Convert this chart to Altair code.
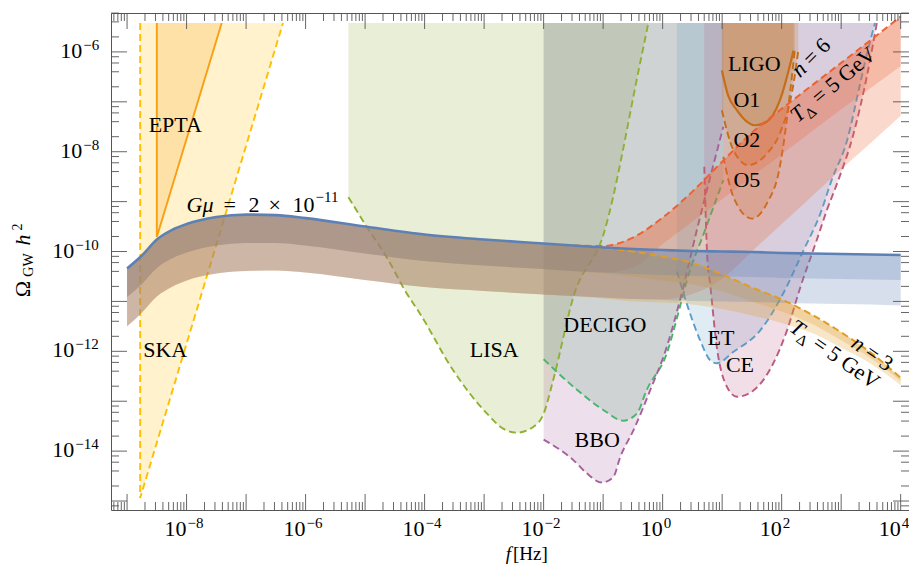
import math
import altair as alt
import pandas as pd

FONT = "Liberation Serif"
FRAME = "#555555"

# ---------------- axes ranges (log10) ----------------
X_DOM = [-9.27, 4.14]
Y_DOM = [-15.18, -5.22]
REG_TOP = -5.42          # upper edge of the sensitivity regions
W, H = 798, 497

# ---------------- colours ----------------
C_BLUE, C_ORANGE, C_GREEN, C_RED = "#5E81B5", "#E19C24", "#8FB032", "#EB6235"
C_LIGO, C_ET, C_SKA, C_BBO = "#C56E1A", "#5D9EC7", "#FFBF00", "#A5609D"
C_EPTA, C_CE, C_DECIGO = "#F89F13", "#BC5B80", "#47B66D"

# ---------------- G mu = 2e-11 spectra (log10 f, log10 Omega h^2) ----------------
GMU_F = [-9, -8.75, -8.5, -8.25, -8, -7.5, -7, -6.5, -6, -5, -4, -3, -2,
         -1.5, -1, -0.5, 0, 0.5, 1, 1.5, 2, 2.5, 3, 3.5, 4]
STD_TOP = [-10.34, -10.08, -9.76, -9.57, -9.45, -9.31, -9.26, -9.27, -9.33, -9.50, -9.66, -9.76, -9.84,
           -9.88, -9.92, -9.95, -9.97, -9.99, -10.0, -10.01, -10.03, -10.04, -10.05, -10.06, -10.07]
STD_MID = [-10.91, -10.65, -10.33, -10.14, -10.02, -9.88, -9.83, -9.83, -9.88, -10.04, -10.19, -10.28, -10.35,
           -10.39, -10.42, -10.45, -10.47, -10.49, -10.50, -10.51, -10.53, -10.54, -10.55, -10.56, -10.57]
STD_BOT = [-11.50, -11.22, -10.90, -10.71, -10.58, -10.44, -10.39, -10.38, -10.42, -10.57, -10.71, -10.79, -10.86,
           -10.89, -10.92, -10.95, -10.97, -10.99, -11.0, -11.01, -11.03, -11.04, -11.05, -11.06, -11.08]

# non-standard cosmologies diverge above ~0.03 Hz
DIV_F = [-1.5, -1, -0.5, 0, 0.5, 1, 1.5, 2, 2.5, 3, 3.5, 4]
N3_TOP = [-9.88, -9.93, -10.0, -10.1, -10.23, -10.46, -10.72, -10.96, -11.26, -11.62, -12.03, -12.53]
N3_MID = [-10.39, -10.43, -10.5, -10.58, -10.66, -10.8, -11.0, -11.2, -11.45, -11.78, -12.14, -12.6]
N3_BOT = [-10.89, -10.94, -11.0, -11.02, -11.06, -11.15, -11.28, -11.43, -11.63, -11.93, -12.25, -12.68]
N6_TOP = [-9.88, -9.89, -9.72, -9.32, -8.8, -8.2, -7.62, -7.14, -6.68, -6.22, -5.76, -5.29]
N6_MID = [-10.39, -10.42, -10.32, -9.85, -9.4, -8.95, -8.5, -8.05, -7.6, -7.15, -6.72, -6.28]
N6_BOT = [-10.89, -10.92, -10.95, -10.95, -10.85, -10.55, -10.0, -9.45, -8.9, -8.35, -7.82, -7.28]

# ---------------- detector sensitivity curves ----------------
SKA_F = [-8.78, -8.78, -6.38]
SKA_O = [REG_TOP, -14.94, REG_TOP]
EPTA_F = [-8.50, -8.50, -7.41]
EPTA_O = [REG_TOP, -9.71, REG_TOP]
LISA_F = [-5.28, -4.97, -4.64, -4.30, -4.08, -3.52, -2.95, -2.68, -2.45, -2.17, -2.0, -1.84, -1.50, -0.99, -0.38, -0.24]
LISA_O = [-8.91, -9.51, -10.11, -10.84, -11.24, -12.38, -13.25, -13.55, -13.63, -13.51, -13.25, -12.58, -10.91, -9.64, -6.23, -5.42]
DECIGO_F = [-2.0, -1.5, -0.99, -0.66, -0.43, -0.27, 0.07, 0.29, 0.41, 0.71, 1.02]
DECIGO_O = [-12.16, -12.71, -13.18, -13.39, -13.24, -12.78, -12.04, -11.11, -10.57, -9.58, -8.57]
BBO_F = [-2.0, -1.5, -1.27, -1.02, -0.83, -0.71, -0.49, -0.21, 0.07, 0.29, 0.575, 1.02]
BBO_O = [-13.77, -14.18, -14.45, -14.63, -14.52, -14.11, -13.58, -12.78, -11.91, -10.98, -9.57, -7.50]
ET_F = [0.24, 0.46, 0.63, 0.80, 0.91, 1.19, 1.64, 2.0, 2.37, 2.65, 2.84, 3.10, 3.32, 3.49, 3.57]
ET_O = [-10.4, -11.24, -11.78, -12.18, -12.24, -12.01, -11.58, -10.9, -9.97, -9.24, -8.57, -7.77, -6.63, -5.77, -5.42]
CE_F = [0.70, 0.75, 0.80, 0.91, 1.08, 1.25, 1.53, 1.86, 2.09, 2.31, 2.59, 2.76, 2.93, 3.21, 3.43, 3.60]
CE_O = [-8.3, -10.11, -10.67, -11.91, -12.71, -12.91, -12.78, -12.24, -11.58, -10.73, -9.77, -9.17, -8.64, -7.63, -6.50, -5.42]
O1_F = [0.995, 1.10, 1.25, 1.42, 1.55, 1.75, 1.97, 2.20]
O1_O = [-6.37, -6.87, -7.17, -7.40, -7.47, -7.40, -6.97, -5.97]
O2_F = [0.995, 1.19, 1.44, 1.75, 1.97, 2.20, 2.28]
O2_O = [-7.17, -7.97, -8.27, -8.04, -7.63, -6.63, -5.97]
O5_F = [1.02, 1.19, 1.50, 1.75, 1.97, 2.14, 2.22]
O5_O = [-8.10, -8.91, -9.34, -9.04, -8.30, -6.83, -5.97]

# ---------------- text labels (text, log f, log Omega) ----------------
LABELS = [("EPTA", -8.19, -7.47), ("SKA", -8.36, -11.98), ("LISA", -2.83, -11.98),
          ("DECIGO", -0.97, -11.48), ("BBO", -1.10, -13.78), ("ET", 0.98, -11.74),
          ("CE", 1.30, -12.28), ("LIGO", 1.54, -6.25), ("O1", 1.415, -6.97),
          ("O2", 1.415, -7.77), ("O5", 1.415, -8.57)]
GMU_LABEL_AT = (-8.0, -9.21)
N6_LABEL_AT = (2.31, -6.53)
T6_LABEL_AT = (2.27, -7.43)
T3_LABEL_AT = (2.11, -11.58)
N3_LABEL_AT = (3.15, -11.90)

X_LABEL_EXP = [-8, -6, -4, -2, 0, 2, 4]
Y_LABEL_EXP = [-14, -12, -10, -8, -6]

# ---------------- helpers ----------------
XS = alt.Scale(type="log", domain=[10 ** X_DOM[0], 10 ** X_DOM[1]], nice=False)
YS = alt.Scale(type="log", domain=[10 ** Y_DOM[0], 10 ** Y_DOM[1]], nice=False)


def xe():
    return alt.X("f:Q", scale=XS, axis=None)


def ye(field="v"):
    return alt.Y(f"{field}:Q", scale=YS, axis=None)


def pts(F, O):
    return pd.DataFrame({"f": [10.0 ** a for a in F], "v": [10.0 ** b for b in O],
                         "t": [10.0 ** REG_TOP] * len(F), "i": list(range(len(F)))})


def region(F, O, color, op=0.2, interp="monotone"):
    return alt.Chart(pts(F, O)).mark_area(color=color, opacity=op, interpolate=interp, clip=True).encode(
        x=xe(), y=ye(), y2="t:Q")


def curve(F, O, color, dash=None, width=1.9, interp="monotone"):
    kw = dict(color=color, strokeWidth=width, interpolate=interp, clip=True)
    if dash:
        kw["strokeDash"] = dash
    return alt.Chart(pts(F, O)).mark_line(**kw).encode(x=xe(), y=ye(), order="i:Q")


def band(F, T, L, color, op=0.25):
    df = pd.DataFrame({"f": [10.0 ** a for a in F], "v": [10.0 ** b for b in T], "v2": [10.0 ** b for b in L]})
    return alt.Chart(df).mark_area(color=color, opacity=op, interpolate="monotone", clip=True).encode(
        x=xe(), y=ye(), y2="v2:Q")


def text_at(s, lf, lo, size=22, angle=0, align="center", baseline="middle", dx=0, dy=0, italic=False):
    df = pd.DataFrame({"f": [10.0 ** lf], "v": [10.0 ** lo]})
    return alt.Chart(df).mark_text(text=s, font=FONT, fontSize=size, angle=angle, align=align, baseline=baseline,
                                   dx=dx, dy=dy, fontStyle="italic" if italic else "normal", color="black").encode(
        x=xe(), y=ye())


def text_px(s, x, y, size=22, angle=0, align="center", baseline="middle", italic=False):
    return alt.Chart(pd.DataFrame({"a": [0]})).mark_text(
        text=s, font=FONT, fontSize=size, angle=angle, align=align, baseline=baseline,
        fontStyle="italic" if italic else "normal", color="black").encode(x=alt.value(x), y=alt.value(y))


layers = []
# detector regions
layers += [region(SKA_F[1:], SKA_O[1:], C_SKA, interp="linear"),
           region(EPTA_F[1:], EPTA_O[1:], C_EPTA, interp="linear"),
           region(LISA_F, LISA_O, C_GREEN), region(DECIGO_F, DECIGO_O, C_DECIGO),
           region(BBO_F, BBO_O, C_BBO), region(ET_F, ET_O, C_ET), region(CE_F, CE_O, C_CE),
           region(O1_F, O1_O, C_LIGO), region(O2_F, O2_O, C_LIGO), region(O5_F, O5_O, C_LIGO)]
DASH = [7, 4]
layers += [curve(SKA_F, SKA_O, C_SKA, DASH, interp="linear"),
           curve(EPTA_F, EPTA_O, C_EPTA, None, interp="linear"),
           curve(LISA_F, LISA_O, C_GREEN, DASH), curve(DECIGO_F, DECIGO_O, C_DECIGO, DASH),
           curve(BBO_F, BBO_O, C_BBO, DASH), curve(ET_F, ET_O, C_ET, DASH), curve(CE_F, CE_O, C_CE, DASH),
           curve(O1_F, O1_O, C_LIGO, None, 2.2), curve(O2_F, O2_O, C_LIGO, DASH), curve(O5_F, O5_O, C_LIGO, DASH)]

# cosmic string bands
common = 13
for F2, T2, M2, B2, col in [(DIV_F, N6_TOP, N6_MID, N6_BOT, C_RED), (DIV_F, N3_TOP, N3_MID, N3_BOT, C_ORANGE)]:
    F = GMU_F[:common] + F2
    T = STD_TOP[:common] + T2
    M = STD_MID[:common] + M2
    B = STD_BOT[:common] + B2
    layers += [band(F, T, B, col), band(F, T, M, col)]
layers += [band(GMU_F, STD_TOP, STD_BOT, C_BLUE), band(GMU_F, STD_TOP, STD_MID, C_BLUE)]
layers += [curve(DIV_F, N6_TOP, C_RED, DASH, 2.0), curve(DIV_F, N3_TOP, C_ORANGE, DASH, 2.0),
           curve(GMU_F, STD_TOP, C_BLUE, None, 2.6)]

# labels
for s, lf, lo in LABELS:
    layers.append(text_at(s, lf, lo))
gx, gy = GMU_LABEL_AT
layers += [text_at("Gμ", gx, gy, align="left", baseline="alphabetic", italic=True),
           text_at("=", gx, gy, align="left", baseline="alphabetic", dx=37),
           text_at("2", gx, gy, align="left", baseline="alphabetic", dx=62),
           text_at("×", gx, gy, align="left", baseline="alphabetic", dx=82),
           text_at("10", gx, gy, align="left", baseline="alphabetic", dx=106),
           text_at("−11", gx, gy, size=15, align="left", baseline="alphabetic", dx=129, dy=-10)]
lf, lo = N6_LABEL_AT
layers += [text_at("n", lf, lo, angle=315, align="left", baseline="alphabetic", italic=True),
           text_at("= 6", lf, lo, angle=315, align="left", baseline="alphabetic", dx=16)]
lf, lo = N3_LABEL_AT
layers += [text_at("n", lf, lo, angle=35, align="left", baseline="alphabetic", italic=True),
           text_at("= 3", lf, lo, angle=35, align="left", baseline="alphabetic", dx=16)]
for (lf, lo), ang in [(T6_LABEL_AT, 320), (T3_LABEL_AT, 35)]:
    layers += [text_at("T", lf, lo, angle=ang, align="left", baseline="alphabetic", italic=True),
               text_at("Δ", lf, lo, size=15, angle=ang, align="left", baseline="alphabetic", dx=12, dy=5),
               text_at("= 5 GeV", lf, lo, angle=ang, align="left", baseline="alphabetic", dx=28)]

# ticks (inward, all four sides)
X_MAJOR = [10.0 ** k for k in range(-9, 5)]
X_MINOR = [m * 10.0 ** k for k in range(-10, 5) for m in range(2, 10)
           if X_DOM[0] < (k + math.log10(m)) < X_DOM[1]]
Y_MAJOR = [10.0 ** k for k in range(-15, -5)]
Y_MINOR = [m * 10.0 ** k for k in range(-16, -5) for m in (2, 4, 6, 8)
           if Y_DOM[0] < (k + math.log10(m)) < Y_DOM[1]]
MAJ, MIN = 16, 8


def xticks(vals, L):
    df = pd.DataFrame({"f": vals})
    r = dict(color=FRAME, strokeWidth=0.9)
    return [alt.Chart(df).mark_rule(**r).encode(x=xe(), y=alt.value(H), y2=alt.value(H - L)),
            alt.Chart(df).mark_rule(**r).encode(x=xe(), y=alt.value(0), y2=alt.value(L))]


def yticks(vals, L):
    df = pd.DataFrame({"v": vals})
    r = dict(color=FRAME, strokeWidth=0.9)
    return [alt.Chart(df).mark_rule(**r).encode(y=ye(), x=alt.value(0), x2=alt.value(L)),
            alt.Chart(df).mark_rule(**r).encode(y=ye(), x=alt.value(W), x2=alt.value(W - L))]


layers += xticks(X_MAJOR, MAJ) + xticks(X_MINOR, MIN) + yticks(Y_MAJOR, MAJ) + yticks(Y_MINOR, MIN)


def expstr(e):
    return ("−" + str(-e)) if e < 0 else str(e)


xl = pd.DataFrame({"f": [10.0 ** e for e in X_LABEL_EXP], "e": [expstr(e) for e in X_LABEL_EXP]})
layers += [alt.Chart(xl).mark_text(text="10", font=FONT, fontSize=22, align="right", baseline="middle",
                                   color="black").encode(x=xe(), y=alt.value(H + 19)),
           alt.Chart(xl).mark_text(font=FONT, fontSize=15, align="left", baseline="middle", dx=1,
                                   color="black").encode(x=xe(), y=alt.value(H + 13), text="e:N")]
for group, xpos in [([e for e in Y_LABEL_EXP if e > -10], -28.7), ([e for e in Y_LABEL_EXP if e <= -10], -36.7)]:
    yl = pd.DataFrame({"v": [10.0 ** e for e in group], "e": [expstr(e) for e in group]})
    layers += [alt.Chart(yl).mark_text(text="10", font=FONT, fontSize=22, align="right", baseline="middle",
                                       dy=-1, color="black").encode(y=ye(), x=alt.value(xpos)),
               alt.Chart(yl).mark_text(font=FONT, fontSize=15, align="left", baseline="middle", dy=-7,
                                       color="black").encode(y=ye(), x=alt.value(xpos + 1), text="e:N")]

# axis titles
layers += [text_px("f", 400, 547, size=19, align="right", baseline="alphabetic", italic=True),
           text_px("[Hz]", 402, 547, size=19, align="left", baseline="alphabetic"),
           text_px("Ω", -87.7, 276, size=22, angle=270),
           text_px("GW", -81.7, 252, size=14, angle=270),
           text_px("h", -87.7, 227, size=22, angle=270, italic=True),
           text_px("2", -93, 214, size=14, angle=270)]

chart = alt.layer(*layers).properties(
    width=W, height=H,
    autosize=alt.AutoSizeParams(type="none"),
    padding={"left": 103, "top": 5, "right": 0, "bottom": 56},
).configure_view(stroke=FRAME, strokeWidth=1)

chart.save("out.html", embed_options={"renderer": "svg", "actions": False})
